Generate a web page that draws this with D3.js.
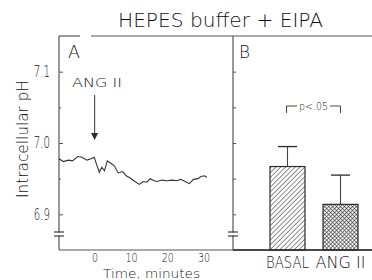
<!DOCTYPE html>
<html><head><meta charset="utf-8">
<script src="https://cdn.jsdelivr.net/npm/d3@7"></script>
<style>html,body{margin:0;padding:0;background:#fff}svg{display:block}text{font-family:"DejaVu Sans",sans-serif;font-weight:300;fill:#111}</style>
</head><body><svg id="c" width="372" height="280"></svg>
<script>
// ---- data ----
const timeMin = [-9.8,-8.6,-7.2,-6.1,-4.6,-3.5,-2.1,-1.0,-0.1,0.6,1.3,2.0,2.7,3.5,4.4,5.4,6.5,7.7,8.7,9.8,11.1,12.3,13.4,14.4,15.3,16.4,17.3,18.5,19.9,21.3,22.6,23.7,24.9,26.1,27.2,28.4,29.3,30.2,30.9];
const phValues = [6.978,6.974,6.976,6.975,6.981,6.980,6.976,6.978,6.980,6.969,6.959,6.966,6.961,6.975,6.972,6.968,6.958,6.960,6.954,6.951,6.946,6.942,6.946,6.945,6.950,6.947,6.946,6.948,6.947,6.948,6.947,6.949,6.946,6.943,6.949,6.950,6.953,6.954,6.952];
const barCategories = ["BASAL","ANG II"];
const barMeans = [6.967, 6.914];
const barErrors = [0.028, 0.041];
const yTicks = [7.1, 7.0, 6.9];
const yMinorTicks = [7.05, 6.95];
const xTicks = [0, 10, 20, 30];
const titleText = "HEPES buffer + EIPA";

(function(){
const svg = d3.select("#c");
const topY = 36, bottomY = 250, leftX = 59, divX = 233, rightX = 372;
const y = d3.scaleLinear().domain([6.85, 7.15]).range([bottomY, topY]);
const x = d3.scaleLinear().domain([-9.8, 38.1]).range([leftX, divX]);
const xb = d3.scaleBand().domain(barCategories).range([261, 367]).paddingInner(0.34).paddingOuter(0.17);
const ink = "#2a2a2a", axisCol = "#555";

function condense(sel, f){ sel.each(function(){ const L=this.getComputedTextLength(); d3.select(this).attr("textLength", L*f).attr("lengthAdjust","spacingAndGlyphs"); }); }

// patterns
const defs = svg.append("defs");
const p1 = defs.append("pattern").attr("id","hatch").attr("patternUnits","userSpaceOnUse").attr("width",3.4).attr("height",3.4).attr("patternTransform","rotate(45)");
p1.append("line").attr("x1",0).attr("y1",0).attr("x2",0).attr("y2",3.4).attr("stroke","#333").attr("stroke-width",1.1);
const p2 = defs.append("pattern").attr("id","xh1").attr("patternUnits","userSpaceOnUse").attr("width",2.8).attr("height",2.8).attr("patternTransform","rotate(45)");
p2.append("line").attr("x1",0).attr("y1",0).attr("x2",0).attr("y2",2.8).attr("stroke","#2a2a2a").attr("stroke-width",1.2);
p2.append("line").attr("x1",0).attr("y1",0).attr("x2",2.8).attr("y2",0).attr("stroke","#2a2a2a").attr("stroke-width",1.2);

// title
svg.append("text").attr("x",118).attr("y",27).attr("font-size",19).attr("textLength",205).attr("lengthAdjust","spacingAndGlyphs").text(titleText);

// frame lines
const fr = svg.append("g").attr("stroke",axisCol).attr("stroke-width",1.2);
fr.append("line").attr("x1",leftX).attr("x2",80).attr("y1",topY).attr("y2",topY);
fr.append("line").attr("x1",91).attr("x2",rightX).attr("y1",topY).attr("y2",topY);
fr.append("line").attr("x1",leftX).attr("x2",leftX).attr("y1",topY).attr("y2",bottomY);
fr.append("line").attr("x1",divX).attr("x2",divX).attr("y1",topY).attr("y2",bottomY);
fr.append("line").attr("x1",leftX).attr("x2",rightX).attr("y1",bottomY).attr("y2",bottomY);

// left y axis ticks + labels
const ya = svg.append("g").attr("transform",`translate(${leftX},0)`)
  .call(d3.axisLeft(y).tickValues(yTicks).tickSizeInner(-4).tickSizeOuter(0).tickPadding(9).tickFormat(d3.format(".1f")));
ya.select(".domain").remove();
ya.selectAll("line").attr("stroke",axisCol);
ya.selectAll("text").attr("font-size",15).attr("font-family",null).attr("fill",null).attr("dy","0.32em");
condense(ya.selectAll("text"),0.68);
const yam = svg.append("g").attr("transform",`translate(${leftX},0)`).call(d3.axisRight(y).tickValues(yMinorTicks).tickSize(2).tickFormat(""));
yam.select(".domain").remove(); yam.selectAll("line").attr("stroke",axisCol);

// right panel axis ticks
const yb = svg.append("g").attr("transform",`translate(${divX},0)`).call(d3.axisRight(y).tickValues(yTicks.concat(yMinorTicks)).tickSize(3).tickFormat(""));
yb.select(".domain").remove(); yb.selectAll("line").attr("stroke",axisCol);

// axis breaks
[leftX, divX].forEach(ax=>{
  svg.append("rect").attr("x",ax-1.5).attr("y",232.5).attr("width",3).attr("height",3).attr("fill","#fff");
  svg.append("line").attr("x1",ax-5).attr("x2",ax+5).attr("y1",232).attr("y2",232).attr("stroke",ink).attr("stroke-width",1.1);
  svg.append("line").attr("x1",ax-5).attr("x2",ax+5).attr("y1",236).attr("y2",236).attr("stroke",ink).attr("stroke-width",1.1);
});

// x axis labels
const xa = svg.append("g").attr("transform",`translate(0,${bottomY})`).call(d3.axisBottom(x).tickValues(xTicks).tickSize(0).tickPadding(3).tickFormat(d3.format("d")));
xa.select(".domain").remove();
xa.selectAll("text").attr("font-size",12.5).attr("font-family",null).attr("fill",null);
condense(xa.selectAll("text"),0.76);
svg.append("text").attr("x",151.5).attr("y",277.5).attr("text-anchor","middle").attr("font-size",13).attr("textLength",97).attr("lengthAdjust","spacingAndGlyphs").text("Time, minutes");

// y title
svg.append("text").attr("transform","translate(28,139) rotate(-90)").attr("text-anchor","middle").attr("font-size",15).attr("textLength",118).attr("lengthAdjust","spacingAndGlyphs").text("Intracellular pH");

// panel letters
svg.append("text").attr("x",68).attr("y",58).attr("font-size",17).attr("textLength",12).attr("lengthAdjust","spacingAndGlyphs").text("A");
svg.append("text").attr("x",239).attr("y",58).attr("font-size",17).attr("textLength",11).attr("lengthAdjust","spacingAndGlyphs").text("B");

// ANG II annotation + arrow
svg.append("text").attr("x",72).attr("y",87).attr("font-size",13).attr("textLength",50).attr("lengthAdjust","spacingAndGlyphs").text("ANG II");
svg.append("line").attr("x1",x(0)).attr("x2",x(0)).attr("y1",95).attr("y2",135).attr("stroke","#555").attr("stroke-width",1.2);
svg.append("path").attr("d",`M${x(0)-3.5},133L${x(0)+3.5},133L${x(0)},140Z`).attr("fill",ink);

// data line
svg.append("path").datum(timeMin.map((t,i)=>[t,phValues[i]]))
  .attr("d", d3.line().x(d=>x(d[0])).y(d=>y(d[1])))
  .attr("fill","none").attr("stroke","#333").attr("stroke-width",1.1);

// bars
const fills = ["url(#hatch)","url(#xh1)"];
barCategories.forEach((c,i)=>{
  const bx = xb(c), bw = xb.bandwidth(), cx = bx+bw/2;
  svg.append("rect").attr("x",bx).attr("y",y(barMeans[i])).attr("width",bw).attr("height",bottomY-y(barMeans[i])).attr("fill","#fff");
  svg.append("rect").attr("x",bx).attr("y",y(barMeans[i])).attr("width",bw).attr("height",bottomY-y(barMeans[i])).attr("fill",fills[i]).attr("stroke",ink).attr("stroke-width",1.2);
  svg.append("line").attr("x1",cx).attr("x2",cx).attr("y1",y(barMeans[i])).attr("y2",y(barMeans[i]+barErrors[i])).attr("stroke","#444").attr("stroke-width",1.1);
  svg.append("line").attr("x1",cx-9.5).attr("x2",cx+9.5).attr("y1",y(barMeans[i]+barErrors[i])).attr("y2",y(barMeans[i]+barErrors[i])).attr("stroke",ink).attr("stroke-width",1.3);
  svg.append("text").attr("x",cx).attr("y",268).attr("text-anchor","middle").attr("font-size",15)
    .attr("textLength", c.length===5?43:50).attr("lengthAdjust","spacingAndGlyphs").text(c);
});
svg.append("line").attr("x1",divX).attr("x2",rightX).attr("y1",bottomY).attr("y2",bottomY).attr("stroke",ink).attr("stroke-width",1.5);

// significance bracket
const bl = xb("BASAL")+xb.bandwidth()/2 - 1, br = xb("ANG II")+xb.bandwidth()/2;
svg.append("path").attr("d",`M${bl},113V106H297M330,106H${br}V113`).attr("fill","none").attr("stroke","#444").attr("stroke-width",1);
svg.append("text").attr("x",313.5).attr("y",109.5).attr("text-anchor","middle").attr("font-size",11).attr("textLength",29).attr("lengthAdjust","spacingAndGlyphs").text("p<.05");
})();
</script></body></html>
